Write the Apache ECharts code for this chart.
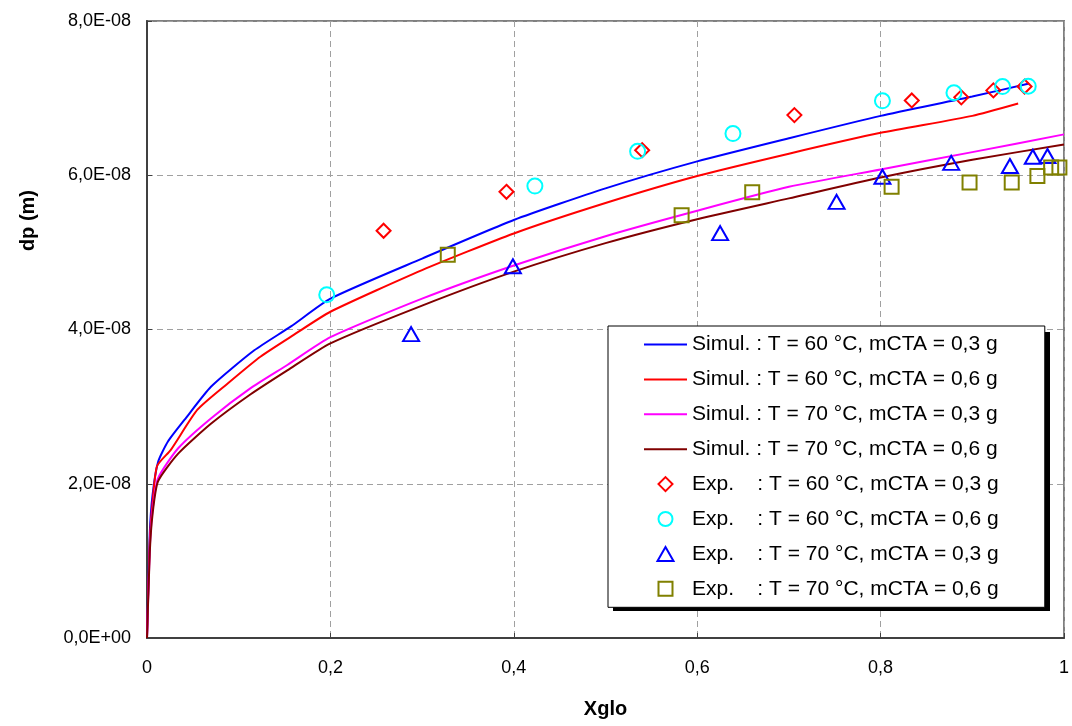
<!DOCTYPE html>
<html>
<head>
<meta charset="utf-8">
<script src="https://cdn.jsdelivr.net/npm/echarts@6/dist/echarts.min.js"></script>
<style>
html,body{margin:0;padding:0;background:#fff;}
#chart{width:1072px;height:726px;}
</style>
</head>
<body>
<div id="chart"></div>
<script>
// ---- Data (dp in metres) ----
const xTicks = [0, 0.2, 0.4, 0.6, 0.8, 1];
const yTicks = [0, 2e-8, 4e-8, 6e-8, 8e-8];

const simNames = [
  'Simul. : T = 60 °C, mCTA = 0,3 g',
  'Simul. : T = 60 °C, mCTA = 0,6 g',
  'Simul. : T = 70 °C, mCTA = 0,3 g',
  'Simul. : T = 70 °C, mCTA = 0,6 g'
];
const expNames = [
  'Exp.    : T = 60 °C, mCTA = 0,3 g',
  'Exp.    : T = 60 °C, mCTA = 0,6 g',
  'Exp.    : T = 70 °C, mCTA = 0,3 g',
  'Exp.    : T = 70 °C, mCTA = 0,6 g'
];

// Simulation curves
const sim60a_x = [0, 0.003, 0.006, 0.012, 0.023, 0.041, 0.07, 0.117, 0.157, 0.2, 0.3, 0.4, 0.5, 0.6, 0.7, 0.8, 0.9, 0.962];
const sim60a_y = [0, 1.35e-8, 1.85e-8, 2.28e-8, 2.55e-8, 2.83e-8, 3.26e-8, 3.73e-8, 4.04e-8, 4.40e-8, 4.92e-8, 5.42e-8, 5.83e-8, 6.18e-8, 6.48e-8, 6.77e-8, 7.02e-8, 7.19e-8];

const sim60b_x = [0, 0.003, 0.006, 0.011, 0.026, 0.055, 0.088, 0.124, 0.16, 0.2, 0.3, 0.4, 0.5, 0.6, 0.7, 0.8, 0.9, 0.95];
const sim60b_y = [0, 1.25e-8, 1.75e-8, 2.23e-8, 2.44e-8, 2.96e-8, 3.30e-8, 3.65e-8, 3.93e-8, 4.23e-8, 4.77e-8, 5.245e-8, 5.64e-8, 5.99e-8, 6.28e-8, 6.55e-8, 6.77e-8, 6.93e-8];

const sim70a_x = [0, 0.003, 0.006, 0.012, 0.034, 0.07, 0.113, 0.153, 0.2, 0.3, 0.4, 0.5, 0.6, 0.7, 0.8, 0.9, 1.0];
const sim70a_y = [0, 1.15e-8, 1.65e-8, 2.07e-8, 2.46e-8, 2.85e-8, 3.24e-8, 3.54e-8, 3.90e-8, 4.40e-8, 4.83e-8, 5.21e-8, 5.54e-8, 5.85e-8, 6.075e-8, 6.30e-8, 6.53e-8];

const sim70b_x = [0, 0.003, 0.006, 0.012, 0.034, 0.07, 0.113, 0.153, 0.2, 0.3, 0.4, 0.5, 0.6, 0.7, 0.8, 0.9, 1.0];
const sim70b_y = [0, 1.10e-8, 1.60e-8, 2.03e-8, 2.39e-8, 2.78e-8, 3.16e-8, 3.47e-8, 3.82e-8, 4.31e-8, 4.75e-8, 5.12e-8, 5.43e-8, 5.70e-8, 5.97e-8, 6.20e-8, 6.40e-8];

// Experimental points
const exp60a_x = [0.258, 0.392, 0.540, 0.706, 0.834, 0.888, 0.923, 0.957];
const exp60a_y = [5.28e-8, 5.785e-8, 6.325e-8, 6.78e-8, 6.97e-8, 7.01e-8, 7.10e-8, 7.15e-8];

const exp60b_x = [0.196, 0.423, 0.535, 0.639, 0.802, 0.880, 0.933, 0.961];
const exp60b_y = [4.45e-8, 5.86e-8, 6.31e-8, 6.54e-8, 6.965e-8, 7.07e-8, 7.15e-8, 7.155e-8];

const exp70a_x = [0.288, 0.399, 0.625, 0.752, 0.802, 0.877, 0.941, 0.966, 0.982];
const exp70a_y = [3.94e-8, 4.82e-8, 5.25e-8, 5.655e-8, 5.98e-8, 6.16e-8, 6.12e-8, 6.24e-8, 6.25e-8];

const exp70b_x = [0.328, 0.583, 0.660, 0.812, 0.897, 0.943, 0.971, 0.986, 0.995];
const exp70b_y = [4.97e-8, 5.48e-8, 5.78e-8, 5.85e-8, 5.905e-8, 5.905e-8, 5.99e-8, 6.10e-8, 6.10e-8];

// ---- Build ----
const zip = (xs, ys) => xs.map((x, i) => [x, ys[i]]);
const FONT = '"Liberation Sans", Arial, sans-serif';

function fmtY(v) {
  if (Math.abs(v) < 1e-20) return '0,0E+00';
  const s = v.toExponential(1);
  const parts = s.split('e');
  const mant = parts[0].replace('.', ',');
  let ex = parseInt(parts[1], 10);
  const sign = ex < 0 ? '-' : '+';
  ex = Math.abs(ex);
  return mant + 'E' + sign + (ex < 10 ? '0' + ex : '' + ex);
}
function fmtX(v) {
  const r = Math.round(v * 10) / 10;
  return String(r).replace('.', ',');
}

const simData = [zip(sim60a_x, sim60a_y), zip(sim60b_x, sim60b_y), zip(sim70a_x, sim70a_y), zip(sim70b_x, sim70b_y)];
const simColors = ['#0000ff', '#ff0000', '#ff00ff', '#800000'];
const expData = [zip(exp60a_x, exp60a_y), zip(exp60b_x, exp60b_y), zip(exp70a_x, exp70a_y), zip(exp70b_x, exp70b_y)];
const expColors = ['#ff0000', '#00ffff', '#0000ff', '#808000'];
const expSymbols = ['diamond', 'circle', 'triangle', 'rect'];
const expSizes = [14, 15, [16, 14], 14];
const expIcons = [
  'path://M7,0L14,7L7,14L0,7Z',
  'path://M7,0A7,7,0,1,1,7,14A7,7,0,1,1,7,0Z',
  'path://M8,0L16,14L0,14Z',
  'path://M0,0H14V14H0Z'
];
const lineIcon = 'path://M0,0H43V2H0Z';

const series = [];
simData.forEach((d, i) => {
  series.push({
    name: simNames[i], type: 'line', data: d, symbol: 'none', showSymbol: false,
    smooth: 0.2,
    lineStyle: { color: simColors[i], width: 2 }, itemStyle: { color: simColors[i] },
    z: 2, animation: false
  });
});
expData.forEach((d, i) => {
  series.push({
    name: expNames[i], type: 'scatter', data: d, symbol: expSymbols[i], symbolSize: expSizes[i],
    itemStyle: { color: 'rgba(0,0,0,0)', borderColor: expColors[i], borderWidth: 2, opacity: 1 },
    z: 3, animation: false
  });
});

const legendData = simNames.map((n, i) => ({
  name: n, icon: lineIcon,
  itemStyle: { color: simColors[i], borderWidth: 0 }
})).concat(expNames.map((n, i) => ({
  name: n, icon: expIcons[i],
  itemStyle: { color: 'rgba(0,0,0,0)', borderColor: expColors[i], borderWidth: 2 }
})));

const chart = echarts.init(document.getElementById('chart'), null, { renderer: 'canvas' });
chart.setOption({
  backgroundColor: '#ffffff',
  animation: false,
  grid: { left: 147, right: 3, top: 21, bottom: 88, show: true, borderColor: '#808080', borderWidth: 2, backgroundColor: 'transparent' },
  xAxis: {
    type: 'value', min: xTicks[0], max: xTicks[xTicks.length - 1], interval: xTicks[1] - xTicks[0],
    name: 'Xglo', nameLocation: 'middle', nameGap: 61,
    nameTextStyle: { fontFamily: FONT, fontSize: 20, fontWeight: 'bold', color: '#000' },
    axisLine: { show: true, onZero: false, lineStyle: { color: '#404040', width: 2 } },
    axisTick: { show: true, inside: true, length: 5, lineStyle: { color: '#404040', width: 1 } },
    axisLabel: { formatter: fmtX, margin: 21, fontFamily: FONT, fontSize: 18, color: '#000' },
    splitLine: { show: true, lineStyle: { color: '#a0a0a0', width: 1, type: [6, 4] } }
  },
  yAxis: {
    type: 'value', min: yTicks[0], max: yTicks[yTicks.length - 1], interval: yTicks[1] - yTicks[0],
    axisLine: { show: true, onZero: false, lineStyle: { color: '#404040', width: 2 } },
    axisTick: { show: true, inside: true, length: 5, lineStyle: { color: '#404040', width: 1 } },
    axisLabel: { formatter: fmtY, margin: 16, fontFamily: FONT, fontSize: 18, color: '#000' },
    splitLine: { show: true, lineStyle: { color: '#a0a0a0', width: 1, type: [6, 4] } }
  },
  legend: {
    orient: 'vertical', left: 608, top: 326, z: 10,
    itemWidth: 43, itemHeight: 14, itemGap: 13.9,
    padding: [8, 46, 8, 36],
    backgroundColor: '#ffffff', borderColor: '#000000', borderWidth: 1,
    textStyle: { fontFamily: FONT, fontSize: 21, color: '#000' },
    data: legendData
  },
  graphic: [
    {
      type: 'rect', z: 9, silent: true,
      shape: { x: 613, y: 332, width: 437, height: 279 },
      style: { fill: '#000000' }
    },
    {
      type: 'text', left: 18, top: 190, rotation: Math.PI / 2, z: 10,
      style: { text: 'dp (m)', font: 'bold 20px ' + FONT, fill: '#000' }
    }
  ],
  series: series
});
</script>
</body>
</html>
